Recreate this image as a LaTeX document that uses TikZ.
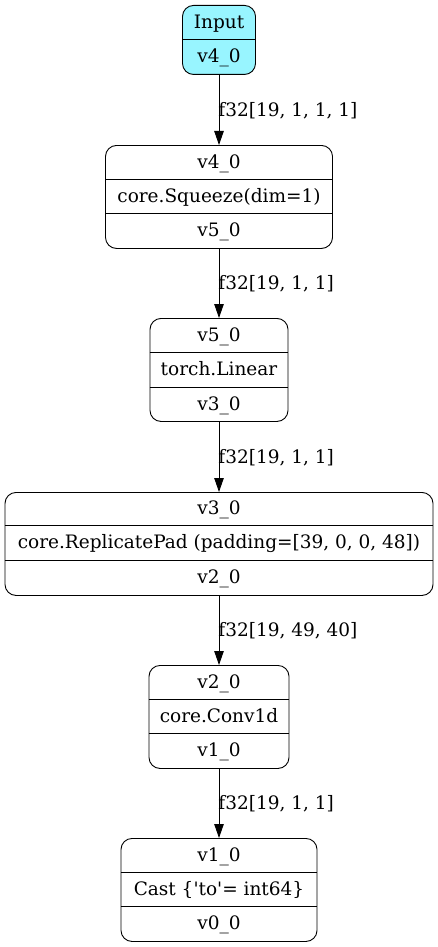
\documentclass[tikz,border=0pt]{standalone}
\usepackage{fontspec}
\setmainfont{DejaVu Serif}
\usetikzlibrary{arrows.meta}
\definecolor{inputfill}{HTML}{98F5FF}
\tikzset{
  x=1pt, y=-1pt,
  box/.style={draw=black, line width=0.9pt, rounded corners=11pt, inner sep=0pt, anchor=north},
  txt/.style={inner sep=0pt, anchor=base, font=\fontsize{18.5}{20}\selectfont},
  lbl/.style={inner sep=0pt, anchor=base west, font=\fontsize{18.5}{20}\selectfont},
  divider/.style={draw=black, line width=0.9pt},
  edge/.style={draw=black, line width=0.9pt, -{Triangle[length=14pt,width=9.5pt]}}
}
\begin{document}
\begin{tikzpicture}
\useasboundingbox (0,0) rectangle (438,947);
% Input
\node[box, fill=inputfill, minimum width=73pt, minimum height=69pt] (n0) at (219,5) {};
\node[txt] (n0a) at (219,29) {Input};
\node[txt] (n0b) at (219,63) {v4\_0};
\draw[divider] (n0.west |- 0,39) -- (n0.east |- 0,39);
% Squeeze
\node[box, minimum width=227pt, minimum height=103pt] (n1) at (219,145) {};
\node[txt] (n1a) at (219,168) {v4\_0};
\node[txt] (n1b) at (219,202) {core.Squeeze(dim=1)};
\node[txt] (n1c) at (219,236.5) {v5\_0};
\draw[divider] (n1.west |- 0,179) -- (n1.east |- 0,179);
\draw[divider] (n1.west |- 0,213) -- (n1.east |- 0,213);
% Linear
\node[box, minimum width=138pt, minimum height=103pt] (n2) at (219,318) {};
\node[txt] (n2a) at (219,341) {v5\_0};
\node[txt] (n2b) at (219,375.5) {torch.Linear};
\node[txt] (n2c) at (219,410) {v3\_0};
\draw[divider] (n2.west |- 0,352) -- (n2.east |- 0,352);
\draw[divider] (n2.west |- 0,387) -- (n2.east |- 0,387);
% ReplicatePad
\node[box, minimum width=428pt, minimum height=103pt] (n3) at (219,492) {};
\node[txt] (n3a) at (219,514.5) {v3\_0};
\node[txt] (n3b) at (219,548.5) {core.ReplicatePad (padding=[39, 0, 0, 48])};
\node[txt] (n3c) at (219,583.5) {v2\_0};
\draw[divider] (n3.west |- 0,525) -- (n3.east |- 0,525);
\draw[divider] (n3.west |- 0,560) -- (n3.east |- 0,560);
% Conv1d
\node[box, minimum width=140pt, minimum height=103pt] (n4) at (219,665) {};
\node[txt] (n4a) at (219,688) {v2\_0};
\node[txt] (n4b) at (219,722) {core.Conv1d};
\node[txt] (n4c) at (219,756.5) {v1\_0};
\draw[divider] (n4.west |- 0,699) -- (n4.east |- 0,699);
\draw[divider] (n4.west |- 0,733) -- (n4.east |- 0,733);
% Cast
\node[box, minimum width=196pt, minimum height=103pt] (n5) at (219,838) {};
\node[txt] (n5a) at (219,861) {v1\_0};
\node[txt] (n5b) at (219,895) {Cast \{\textquotesingle to\textquotesingle= int64\}};
\node[txt] (n5c) at (219,929.5) {v0\_0};
\draw[divider] (n5.west |- 0,872) -- (n5.east |- 0,872);
\draw[divider] (n5.west |- 0,906) -- (n5.east |- 0,906);
% edges
\draw[edge] (n0.south) -- node[lbl, xshift=-1pt, yshift=-6.5pt] (l1) {f32[19, 1, 1, 1]} (n1.north);
\draw[edge] (n1.south) -- node[lbl, xshift=-1pt, yshift=-6.5pt] (l2) {f32[19, 1, 1]} (n2.north);
\draw[edge] (n2.south) -- node[lbl, xshift=-1pt, yshift=-6.5pt] (l3) {f32[19, 1, 1]} (n3.north);
\draw[edge] (n3.south) -- node[lbl, xshift=-1pt, yshift=-6.5pt] (l4) {f32[19, 49, 40]} (n4.north);
\draw[edge] (n4.south) -- node[lbl, xshift=-1pt, yshift=-6.5pt] (l5) {f32[19, 1, 1]} (n5.north);
\end{tikzpicture}
\end{document}
